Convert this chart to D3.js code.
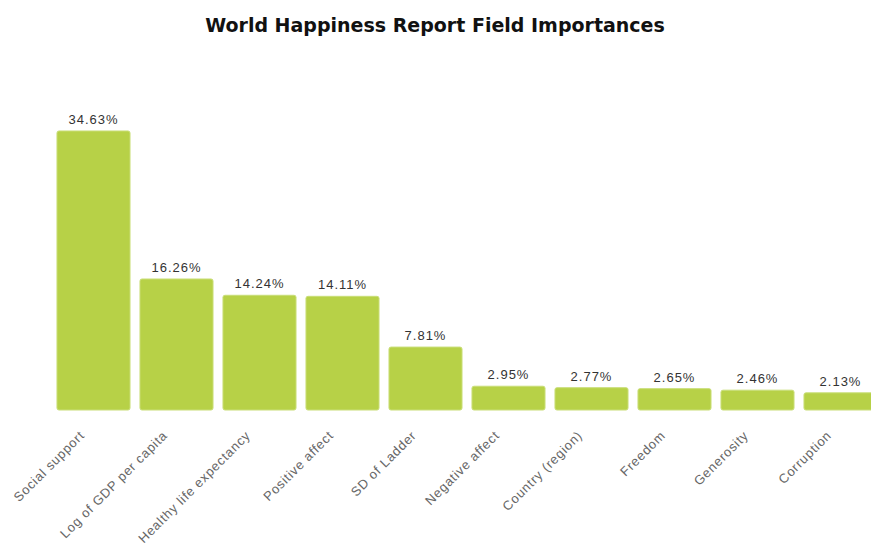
<!DOCTYPE html>
<html>
<head>
<meta charset="utf-8">
<script src="https://cdn.jsdelivr.net/npm/d3@7"></script>
<style>
  body { margin: 0; background: #fff; }
</style>
</head>
<body>
<div id="chart"></div>
<script>
// field importance data
const fields = ['Social support', 'Log of GDP per capita', 'Healthy life expectancy', 'Positive affect',
                'SD of Ladder', 'Negative affect', 'Country (region)', 'Freedom', 'Generosity', 'Corruption'];
const importances = [34.63, 16.26, 14.24, 14.11, 7.81, 2.95, 2.77, 2.65, 2.46, 2.13];

const W = 871, H = 545;
const baseY = 410;

const svg = d3.select('#chart').append('svg')
  .attr('width', W).attr('height', H);

svg.append('text')
  .attr('x', 435).attr('y', 32)
  .attr('text-anchor', 'middle')
  .style('font-family', 'DejaVu Sans, Verdana, sans-serif')
  .style('font-weight', 'bold')
  .style('font-size', '19px')
  .style('fill', '#111')
  .text('World Happiness Report Field Importances');

const data = fields.map((f, i) => ({ name: f, value: importances[i] }));

const x = d3.scaleBand().domain(fields).range([52, 882]).paddingInner(0.12).paddingOuter(0.06);
const y = d3.scaleLinear().domain([0, 35]).range([baseY, baseY - 282]);

/* -------- bars -------- */
svg.append('g').selectAll('rect').data(data).enter().append('rect')
  .attr('x', d => x(d.name))
  .attr('y', d => y(d.value))
  .attr('width', x.bandwidth())
  .attr('height', d => baseY - y(d.value))
  .attr('rx', 2).attr('ry', 2)
  .style('fill', '#b7d147')
  .style('stroke', '#c9de78')
  .style('stroke-width', 1);

/* -------- value labels -------- */
svg.append('g').selectAll('text').data(data).enter().append('text')
  .attr('x', d => x(d.name) + x.bandwidth() / 2)
  .attr('y', d => y(d.value) - 7)
  .attr('text-anchor', 'middle')
  .style('font-family', 'Liberation Sans, Arial, sans-serif')
  .style('font-size', '13px')
  .style('letter-spacing', '1px')
  .style('fill', '#333')
  .text(d => d.value.toFixed(2) + '%');

/* -------- x axis labels -------- */
const xAxisG = svg.append('g').attr('transform', `translate(0,${baseY})`)
  .call(d3.axisBottom(x).tickSize(0));
xAxisG.select('.domain').remove();
xAxisG.selectAll('text')
  .attr('x', -6).attr('y', 0)
  .attr('dy', '0')
  .attr('transform', 'translate(-4,22) rotate(-45)')
  .style('text-anchor', 'end')
  .style('font-family', 'Liberation Sans, Arial, sans-serif')
  .style('font-size', '13px')
  .style('letter-spacing', '0.8px')
  .style('fill', '#666');
</script>
</body>
</html>
